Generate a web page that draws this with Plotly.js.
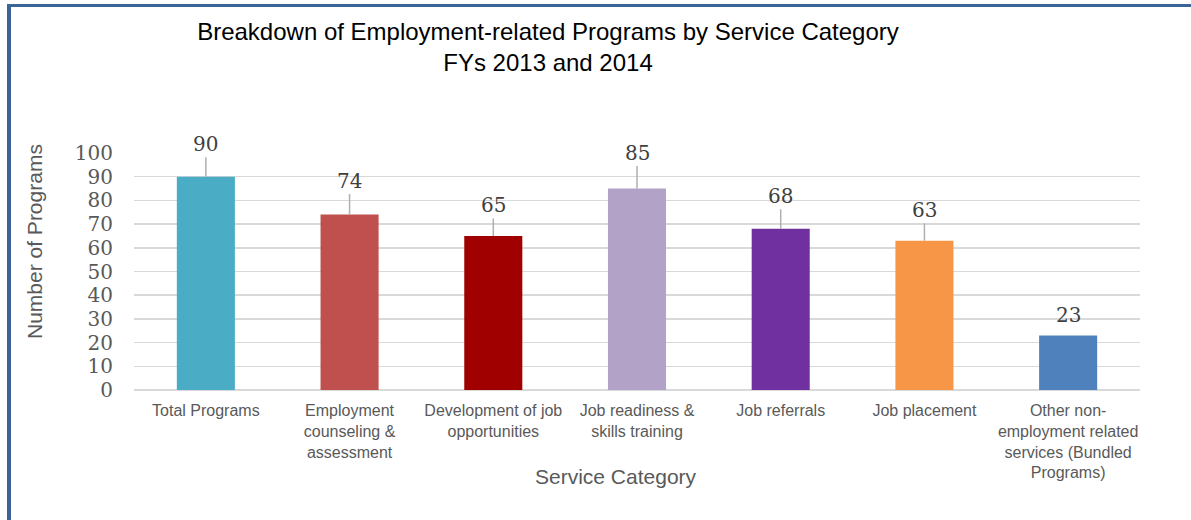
<!DOCTYPE html>
<html>
<head>
<meta charset="utf-8">
<script src="https://cdn.plot.ly/plotly-3.0.1.min.js"></script>
<style>
html,body{margin:0;padding:0;background:#fff;}
#chart{width:1191px;height:520px;}
</style>
</head>
<body>
<div id="chart"></div>
<script>
// ---- data ----
const categories = [
  "Total Programs",
  "Employment<br>counseling &<br>assessment",
  "Development of job<br>opportunities",
  "Job readiness &<br>skills training",
  "Job referrals",
  "Job placement",
  "Other non-<br>employment related<br>services (Bundled<br>Programs)"
];
const programCounts = [90, 74, 65, 85, 68, 63, 23];
const yTickValues = [0, 10, 20, 30, 40, 50, 60, 70, 80, 90, 100];

// ---- style ----
const barColors = ["#4bacc6", "#c0504d", "#a00000", "#b2a2c7", "#7030a0", "#f79646", "#4f81bd"];
const labelDy = [-33, -34, -31, -36, -33, -31, -20];

const M = {l: 134, r: 51, t: 153, b: 130};
const W = 1191 - M.l - M.r, H = 520 - M.t - M.b;
const px2x = p => (p - M.l) / W;
const py2y = p => (520 - M.b - p) / H;

const sans = "Liberation Sans, Arial, sans-serif";
const serif = "DejaVu Serif, serif";

const trace = {
  type: "bar",
  x: categories,
  y: programCounts,
  marker: {color: barColors},
  hoverinfo: "none"
};

const annotations = categories.map((c, i) => ({
  x: c, y: programCounts[i], xref: "x", yref: "y",
  text: String(programCounts[i]),
  showarrow: labelDy[i] < -25,
  arrowhead: 0, arrowwidth: 1.5, arrowcolor: "#b0b0b0", standoff: 0,
  ax: 0, ay: labelDy[i],
  yshift: labelDy[i] < -25 ? 0 : -labelDy[i],
  font: {family: serif, size: 20, color: "#404040"}
}));
annotations.push({
  xref: "paper", yref: "paper", x: px2x(34), y: py2y(242),
  text: "Number of Programs", textangle: -90, showarrow: false,
  xanchor: "center", yanchor: "middle",
  font: {family: sans, size: 21, color: "#595959"}
});
annotations.push({
  xref: "paper", yref: "paper", x: px2x(616), y: py2y(476),
  text: "Service Category", showarrow: false,
  xanchor: "center", yanchor: "middle",
  font: {family: sans, size: 21, color: "#595959"}
});

const borderColor = "#3b6499";
const layout = {
  width: 1191, height: 520,
  margin: M,
  paper_bgcolor: "#ffffff", plot_bgcolor: "#ffffff",
  showlegend: false,
  bargap: 0.596,
  title: {
    text: "Breakdown of Employment-related Programs by Service Category<br>FYs 2013 and 2014",
    xref: "paper", x: px2x(548), xanchor: "center",
    yref: "container", y: 1 - 40 / 520, yanchor: "middle",
    font: {family: sans, size: 24, color: "#000000"}
  },
  xaxis: {
    type: "category",
    showgrid: false, zeroline: false, showline: false,
    ticks: "",
    tickfont: {family: sans, size: 16, color: "#595959"},
    ticklabelstandoff: 9,
    fixedrange: true
  },
  yaxis: {
    range: [0, 100],
    tickvals: yTickValues,
    ticktext: yTickValues.map(String),
    showgrid: true, gridcolor: "#d9d9d9", gridwidth: 1.5,
    zeroline: true, zerolinecolor: "#d9d9d9", zerolinewidth: 1.5,
    showline: false, ticks: "",
    tickfont: {family: serif, size: 20, color: "#595959"},
    ticklabelstandoff: 20,
    fixedrange: true
  },
  annotations: annotations,
  shapes: [
    {type: "line", xref: "paper", yref: "paper",
     x0: px2x(9), x1: px2x(9), y0: py2y(4), y1: py2y(530),
     line: {color: borderColor, width: 4}},
    {type: "line", xref: "paper", yref: "paper",
     x0: px2x(7), x1: px2x(1200), y0: py2y(5.5), y1: py2y(5.5),
     line: {color: borderColor, width: 3}}
  ]
};

Plotly.newPlot("chart", [trace], layout, {displayModeBar: false, staticPlot: true});
</script>
</body>
</html>
